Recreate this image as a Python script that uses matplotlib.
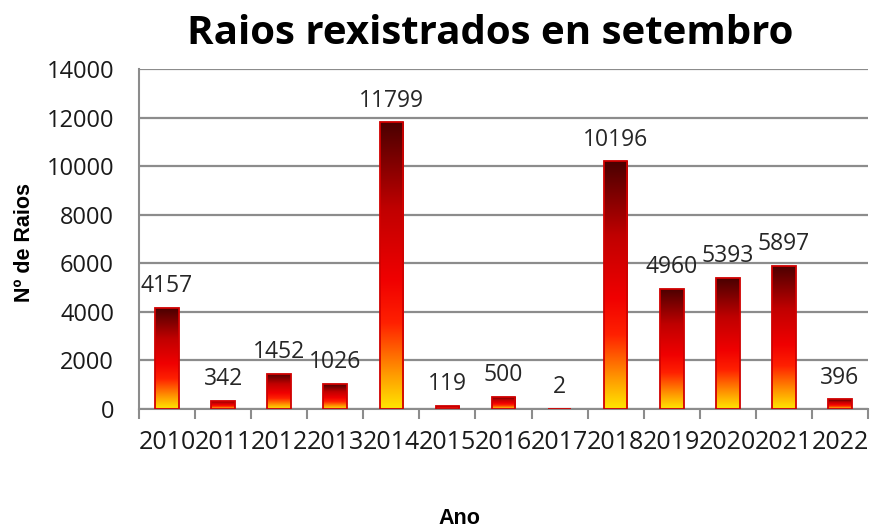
import numpy as np
import matplotlib
matplotlib.use("Agg")
import matplotlib.pyplot as plt
from matplotlib.colors import LinearSegmentedColormap

years = ["2010", "2011", "2012", "2013", "2014", "2015", "2016",
         "2017", "2018", "2019", "2020", "2021", "2022"]
raios = [4157, 342, 1452, 1026, 11799, 119, 500, 2, 10196, 4960, 5393, 5897, 396]
title = "Raios rexistrados en setembro"
xlabel = "Ano"
ylabel = "Nº de Raios"

plt.rcParams['font.family'] = ['Open Sans', 'DejaVu Sans']

fig = plt.figure(figsize=(8.71, 5.31), dpi=100)
ax = fig.add_axes([139/871, 1-409/531, (868-139)/871, (409-69)/531])

x = np.arange(len(years))
bars = ax.bar(x, raios, width=0.42, facecolor='none', edgecolor='#d00000',
              linewidth=1.3, zorder=3)

cmap = LinearSegmentedColormap.from_list(
    "fire", [(0.0, '#ffe600'), (0.12, '#ff9a00'), (0.3, '#ff2000'),
             (0.45, '#f00000'), (0.7, '#c00000'), (1.0, '#4a0000')])
grad = np.linspace(0, 1, 256).reshape(-1, 1)
for b in bars:
    x0, y0 = b.get_x(), b.get_y()
    w, h = b.get_width(), b.get_height()
    if h <= 0:
        continue
    im = ax.imshow(grad, cmap=cmap, origin='lower', aspect='auto',
                   extent=[x0, x0 + w, y0, y0 + h], zorder=2,
                   interpolation='bilinear')
    im.set_clip_path(b)

for xi, v in zip(x, raios):
    ax.annotate(str(v), (xi, v), xytext=(0, 7), textcoords='offset points',
                ha='center', va='bottom', fontsize=16.5, color='#262626')

ax.set_xlim(-0.5, len(years) - 0.5)
ax.set_ylim(0, 14000)
ax.set_yticks(np.arange(0, 14001, 2000))
ax.set_yticklabels([str(v) for v in range(0, 14001, 2000)])
ax.set_xticks(x)
ax.set_xticklabels(years)
ax.set_xticks(np.arange(-0.5, len(years), 1), minor=True)
ax.tick_params(axis='x', which='major', length=0, pad=15, labelsize=18, labelcolor='#1a1a1a')
ax.tick_params(axis='x', which='minor', length=7, width=1.5, color='#8c8c8c', direction='out')
ax.tick_params(axis='y', length=0, pad=18, labelsize=17, labelcolor='#1a1a1a')

ax.grid(axis='y', color='#8c8c8c', linewidth=1.6, zorder=0)
ax.set_axisbelow(True)
for s in ['top', 'right']:
    ax.spines[s].set_visible(False)
ax.spines['left'].set_color('#8c8c8c')
ax.spines['left'].set_linewidth(1.5)
ax.spines['bottom'].set_color('#8c8c8c')
ax.spines['bottom'].set_linewidth(1.5)

fig.text(490/871, 1-33/531, title, ha='center', va='center',
         fontsize=29, fontweight='bold', color='#000000')
fig.text(24/871, 1-242/531, ylabel, ha='center', va='center', rotation=90,
         fontsize=15.5, fontweight='bold', color='#000000',
         family=['Liberation Sans', 'DejaVu Sans'])
fig.text(459/871, 1-519/531, xlabel, ha='center', va='center',
         fontsize=15.5, fontweight='bold', color='#000000',
         family=['Liberation Sans', 'DejaVu Sans'])

fig.savefig("out.png", dpi=100)
